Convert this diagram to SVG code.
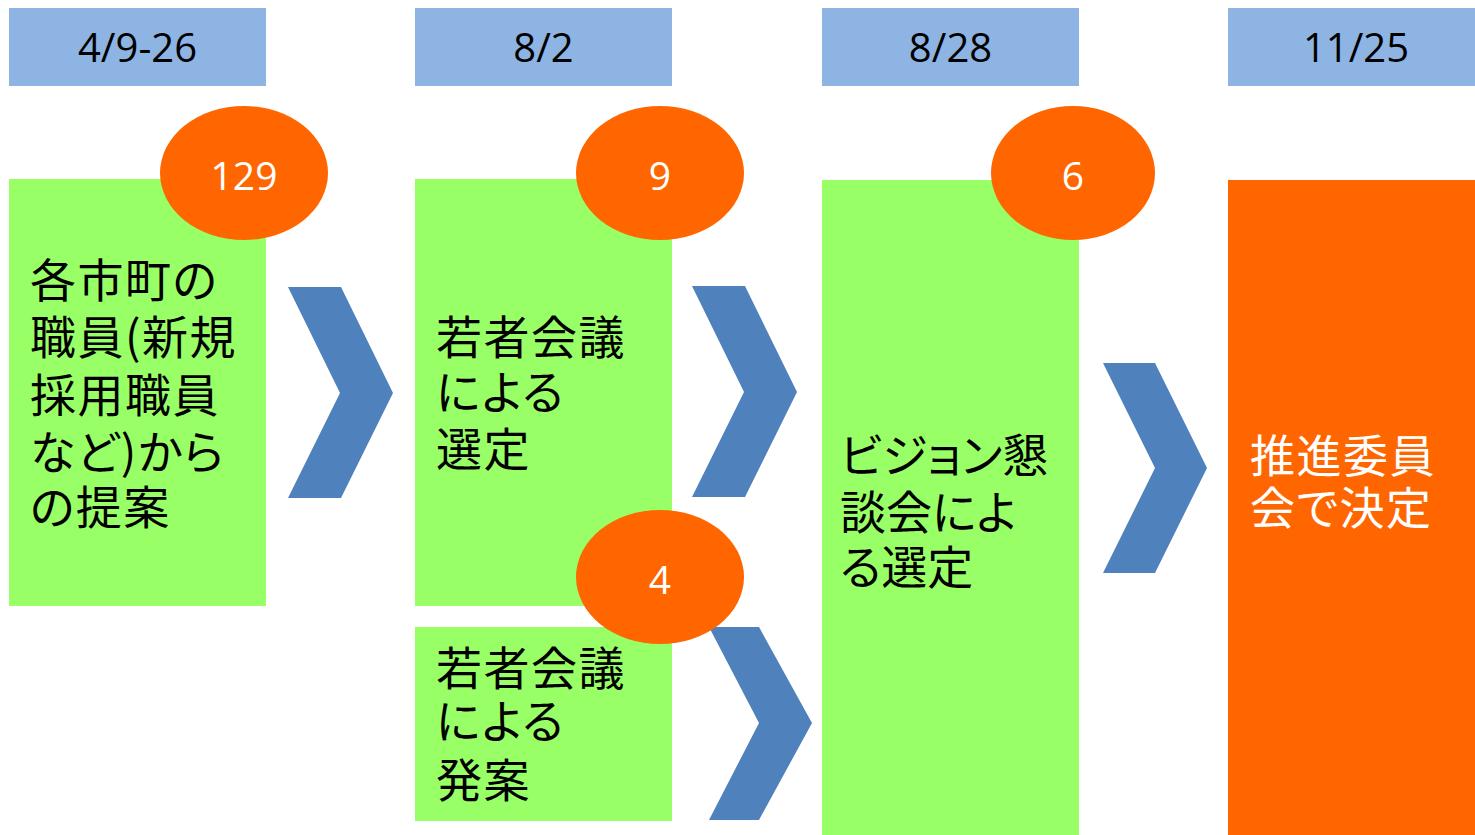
<svg xmlns="http://www.w3.org/2000/svg" width="1475" height="835" viewBox="0 0 1475 835">
<style>
.hdr{fill:#8EB4E3}
.grn{fill:#99FF66}
.org{fill:#FF6600}
.chev{fill:#4F81BD}
.ht{font-family:"Open Sans","Liberation Sans",sans-serif;font-size:40px;fill:#000;text-anchor:middle}
.nt{font-family:"Open Sans","Liberation Sans",sans-serif;font-size:39px;fill:#fff;text-anchor:middle}
.jp{font-family:"Noto Sans CJK JP",sans-serif;font-size:46px;fill:#000;font-feature-settings:"palt";letter-spacing:1.5px}
.jpw{font-family:"Noto Sans CJK JP",sans-serif;font-size:45px;fill:#fff;font-feature-settings:"palt";letter-spacing:1.5px}
</style>
<rect width="1475" height="835" fill="#fff"/>
<g id="date1"><rect class="hdr" x="9" y="8" width="257" height="78"/><text class="ht" x="137.5" y="62">4/9-26</text></g>
<g id="date2"><rect class="hdr" x="415" y="8" width="257" height="78"/><text class="ht" x="543.5" y="62">8/2</text></g>
<g id="date3"><rect class="hdr" x="822" y="8" width="257" height="78"/><text class="ht" x="950.5" y="62">8/28</text></g>
<g id="date4"><rect class="hdr" x="1228" y="8" width="247" height="78"/><text class="ht" x="1356" y="62">11/25</text></g>

<g id="step1"><rect class="grn" x="9" y="179" width="257" height="427"/>
<text class="jp"><tspan x="30" y="297">各市町の</tspan><tspan x="30" y="354">職員(新規</tspan><tspan x="30" y="412">採用職員</tspan><tspan x="30" y="469">など)から</tspan><tspan x="30" y="524">の提案</tspan></text></g>
<g id="step2a"><rect class="grn" x="415" y="179" width="257" height="427"/>
<text class="jp"><tspan x="436" y="354">若者会議</tspan><tspan x="436" y="409">による</tspan><tspan x="436" y="466">選定</tspan></text></g>
<g id="step2b"><rect class="grn" x="415" y="627" width="257" height="194"/>
<text class="jp"><tspan x="436" y="685">若者会議</tspan><tspan x="436" y="738">による</tspan><tspan x="436" y="797">発案</tspan></text></g>
<g id="step3"><rect class="grn" x="822" y="180" width="257" height="655"/>
<text class="jp" style="letter-spacing:0"><tspan x="840" y="472">ビジョン懇</tspan><tspan x="840" y="529">談会によ</tspan><tspan x="840" y="584">る選定</tspan></text></g>
<g id="step4"><rect class="org" x="1228" y="180" width="247" height="655"/>
<text class="jpw"><tspan x="1250" y="473">推進委員</tspan><tspan x="1250" y="525">会で決定</tspan></text></g>

<g id="connectors">
<polygon class="chev" points="288,287 341,287 393,393 341,498 288,498 340,393"/>
<polygon class="chev" points="692,286 745,286 797,392 745,497 692,497 744,392"/>
<polygon class="chev" points="709,627 759,627 812,723 759,820 709,820 759,723"/>
<polygon class="chev" points="1103,363 1155,363 1207,468 1155,573 1103,573 1155,468"/>
</g>

<g id="count129"><ellipse class="org" cx="244" cy="173" rx="84" ry="67"/><text class="nt" x="244" y="190">129</text></g>
<g id="count9"><ellipse class="org" cx="660" cy="173" rx="84" ry="67"/><text class="nt" x="660" y="190">9</text></g>
<g id="count4"><ellipse class="org" cx="660" cy="577" rx="84" ry="67"/><text class="nt" x="660" y="594">4</text></g>
<g id="count6"><ellipse class="org" cx="1073" cy="173" rx="82" ry="67"/><text class="nt" x="1073" y="190">6</text></g>
</svg>
